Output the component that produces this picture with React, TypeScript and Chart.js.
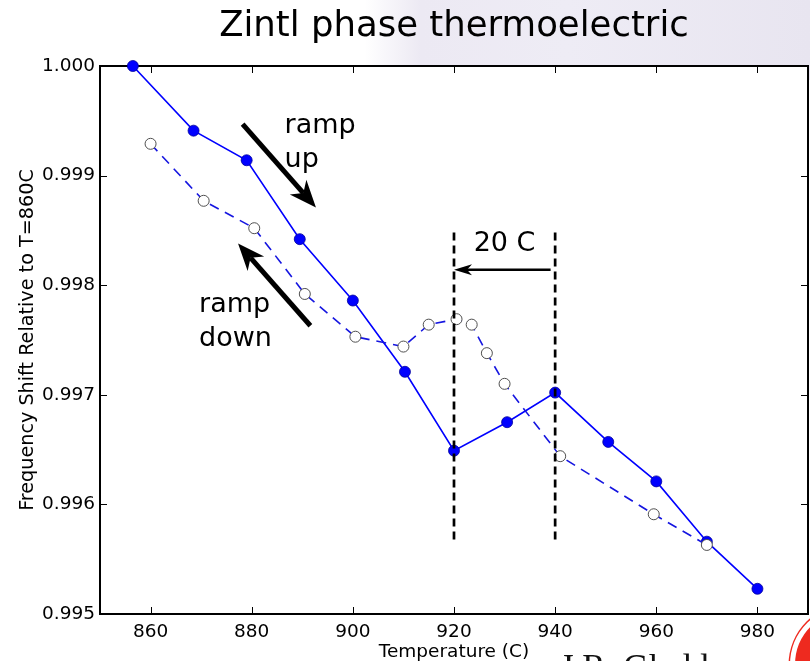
import React, { useEffect, useRef } from "react";
import { Chart, registerables } from "chart.js";

Chart.register(...registerables);

// Ramp-up measurement (filled markers, solid line)
const rampUpTemp = [856.5, 868.5, 879, 889.5, 900, 910.3, 920, 930.5, 940, 950.5, 960, 970, 980];
const rampUpShift = [1.0, 0.99941, 0.99914, 0.99842, 0.99786, 0.99721, 0.99649, 0.99675, 0.99702, 0.99657, 0.99621, 0.99566, 0.99523];

// Ramp-down measurement (open markers, dashed line)
const rampDownTemp = [860, 870.5, 880.5, 890.5, 900.5, 910, 915, 920.5, 923.5, 926.5, 930, 941, 959.5, 970];
const rampDownShift = [0.99929, 0.99877, 0.99852, 0.99792, 0.99753, 0.99744, 0.99764, 0.99769, 0.99764, 0.99738, 0.9971, 0.99644, 0.99591, 0.99563];

// Axis ticks
const xTickValues = [860, 880, 900, 920, 940, 960, 980];
const yTickValues = [0.995, 0.996, 0.997, 0.998, 0.999, 1.0];

// Annotations, in data coordinates
const offsetTemps = [920, 940];
const offsetSpan = [0.99565, 0.99848];
const offsetArrow = { from: [939.1, 0.99814], to: [920, 0.99814] };
const offsetLabel = { text: "20 C", at: [930, 0.998314] };
const rampUpArrow = { from: [878.2, 0.99947], to: [892.7, 0.99871] };
const rampDownArrow = { from: [891.6, 0.99763], to: [877.3, 0.99838] };
const rampUpLabel = { lines: ["ramp", "up"], at: [886.5, 0.999387] };
const rampDownLabel = { lines: ["ramp", "down"], at: [869.6, 0.997757] };

const FONT = "DejaVu Sans";

function drawArrow(
  ctx: CanvasRenderingContext2D,
  x0: number, y0: number, x1: number, y1: number,
  shaftW: number, headL: number, headW: number, notch: number
) {
  const dx = x1 - x0, dy = y1 - y0;
  const len = Math.hypot(dx, dy);
  const ux = dx / len, uy = dy / len;
  const nx = -uy, ny = ux;
  const nxp = x1 - ux * (headL - notch), nyp = y1 - uy * (headL - notch);
  ctx.lineWidth = shaftW;
  ctx.lineCap = "butt";
  ctx.beginPath();
  ctx.moveTo(x0, y0);
  ctx.lineTo(nxp, nyp);
  ctx.stroke();
  const bx = x1 - ux * headL, by = y1 - uy * headL;
  ctx.beginPath();
  ctx.moveTo(x1, y1);
  ctx.lineTo(bx + nx * headW, by + ny * headW);
  ctx.lineTo(nxp, nyp);
  ctx.lineTo(bx - nx * headW, by - ny * headW);
  ctx.closePath();
  ctx.fill();
}

const framePlugin = {
  id: "frame",
  beforeDraw(chart: any) {
    const { ctx, chartArea: a } = chart;
    ctx.save();
    ctx.fillStyle = "#ffffff";
    ctx.fillRect(a.left, a.top, a.right - a.left, a.bottom - a.top);
    ctx.restore();
  },
  beforeDatasetsDraw(chart: any) {
    const { ctx, chartArea: a, scales } = chart;
    ctx.save();
    // inward tick marks on all four sides
    ctx.strokeStyle = "#000";
    ctx.lineWidth = 1;
    const tl = 7;
    for (const v of xTickValues) {
      const px = Math.round(scales.x.getPixelForValue(v)) + 0.5;
      ctx.beginPath();
      ctx.moveTo(px, a.bottom);
      ctx.lineTo(px, a.bottom - tl);
      ctx.moveTo(px, a.top);
      ctx.lineTo(px, a.top + tl);
      ctx.stroke();
    }
    for (const v of yTickValues) {
      const py = Math.round(scales.y.getPixelForValue(v)) + 0.5;
      ctx.beginPath();
      ctx.moveTo(a.left, py);
      ctx.lineTo(a.left + tl, py);
      ctx.moveTo(a.right, py);
      ctx.lineTo(a.right - tl, py);
      ctx.stroke();
    }
    // axes frame
    ctx.lineWidth = 2;
    ctx.strokeRect(a.left, a.top, a.right - a.left, a.bottom - a.top);
    ctx.restore();
  },
  afterDatasetsDraw(chart: any) {
    const { ctx, scales } = chart;
    const X = (v: number) => scales.x.getPixelForValue(v);
    const Y = (v: number) => scales.y.getPixelForValue(v);
    ctx.save();
    ctx.strokeStyle = "#000";
    ctx.fillStyle = "#000";

    // dashed markers for the 20 C offset
    ctx.lineWidth = 2.7;
    ctx.setLineDash([8, 5]);
    for (const t of offsetTemps) {
      ctx.beginPath();
      ctx.moveTo(X(t), Y(offsetSpan[1]));
      ctx.lineTo(X(t), Y(offsetSpan[0]));
      ctx.stroke();
    }
    ctx.setLineDash([]);

    drawArrow(ctx, X(offsetArrow.from[0]), Y(offsetArrow.from[1]), X(offsetArrow.to[0]), Y(offsetArrow.to[1]), 2.5, 18, 5.5, 5);
    drawArrow(ctx, X(rampUpArrow.from[0]), Y(rampUpArrow.from[1]), X(rampUpArrow.to[0]), Y(rampUpArrow.to[1]), 5, 27, 11, 8);
    drawArrow(ctx, X(rampDownArrow.from[0]), Y(rampDownArrow.from[1]), X(rampDownArrow.to[0]), Y(rampDownArrow.to[1]), 5, 27, 11, 8);

    ctx.font = `27px "${FONT}"`;
    ctx.textBaseline = "alphabetic";
    ctx.textAlign = "center";
    ctx.fillText(offsetLabel.text, X(offsetLabel.at[0]), Y(offsetLabel.at[1]));
    ctx.textAlign = "left";
    const lh = 33.7;
    rampUpLabel.lines.forEach((s, i) => ctx.fillText(s, X(rampUpLabel.at[0]), Y(rampUpLabel.at[1]) + i * lh));
    rampDownLabel.lines.forEach((s, i) => ctx.fillText(s, X(rampDownLabel.at[0]), Y(rampDownLabel.at[1]) + i * lh));
    ctx.restore();
  },
};

export default function App() {
  const ref = useRef<HTMLCanvasElement>(null);

  useEffect(() => {
    if (!ref.current) return;
    Chart.defaults.font.family = FONT;
    Chart.defaults.color = "#000";
    const chart = new Chart(ref.current, {
      type: "line",
      data: {
        datasets: [
          {
            label: "ramp down",
            data: rampDownTemp.map((t, i) => ({ x: t, y: rampDownShift[i] })),
            borderColor: "#1515e0",
            borderWidth: 1.6,
            borderDash: [10, 7],
            pointRadius: 5.5,
            pointBackgroundColor: "#ffffff",
            pointBorderColor: "#505050",
            pointBorderWidth: 1,
            tension: 0,
            clip: false as any,
            order: 0,
          },
          {
            label: "ramp up",
            data: rampUpTemp.map((t, i) => ({ x: t, y: rampUpShift[i] })),
            borderColor: "#0000ff",
            borderWidth: 1.6,
            pointRadius: 5.5,
            pointBackgroundColor: "#0000ff",
            pointBorderColor: "#00009a",
            pointBorderWidth: 0.8,
            tension: 0,
            clip: false as any,
            order: 1,
          },
        ],
      },
      options: {
        responsive: false,
        animation: false,
        events: [],
        layout: { autoPadding: false, padding: { left: 0, right: 2, top: 0, bottom: 0 } },
        plugins: {
          legend: { display: false },
          tooltip: { enabled: false },
          title: {
            display: true,
            text: "Zintl phase thermoelectric",
            fullSize: false,
            color: "#000",
            font: { family: FONT, size: 35.5, weight: "normal", lineHeight: 1.2 },
            padding: { top: 5, bottom: 18.4 },
          },
        },
        scales: {
          x: {
            type: "linear",
            min: 850,
            max: 990,
            grid: { display: false, drawTicks: false },
            border: { display: false },
            afterBuildTicks: (s: any) => {
              s.ticks = xTickValues.map((v) => ({ value: v }));
            },
            afterFit: (s: any) => {
              s.height = 47;
            },
            ticks: {
              color: "#000",
              padding: 7,
              maxRotation: 0,
              font: { family: FONT, size: 18.5 },
              callback: (v: any) => String(v),
            },
            title: {
              display: true,
              text: "Temperature (C)",
              color: "#000",
              font: { family: FONT, size: 18.5, lineHeight: 1 },
              padding: { top: 0, bottom: 0 },
            },
          },
          y: {
            type: "linear",
            min: 0.995,
            max: 1.0,
            grid: { display: false, drawTicks: false },
            border: { display: false },
            afterBuildTicks: (s: any) => {
              s.ticks = yTickValues.map((v) => ({ value: v }));
            },
            afterFit: (s: any) => {
              s.width = 100;
            },
            ticks: {
              color: "#000",
              padding: 5,
              font: { family: FONT, size: 18.5 },
              callback: (v: any) => Number(v).toFixed(3),
            },
            title: {
              display: true,
              text: "Frequency Shift Relative to T=860C",
              color: "#000",
              font: { family: FONT, size: 19.2, lineHeight: 1.2 },
              padding: { top: 16.5, bottom: 0 },
            },
          },
        },
      },
      plugins: [framePlugin],
    });
    return () => chart.destroy();
  }, []);

  return (
    <div
      style={{
        position: "fixed",
        left: 0,
        top: 0,
        width: 810,
        height: 661,
        overflow: "hidden",
        background: "#ffffff",
      }}
    >
      <div
        style={{
          position: "absolute",
          left: 0,
          top: 0,
          width: 810,
          height: 80,
          background:
            "linear-gradient(90deg, #ffffff 0%, #ffffff 45%, #ece9f3 52%, #eeecf5 70%, #e8e5f0 100%)",
        }}
      />
      <canvas
        ref={ref}
        width={810}
        height={661}
        style={{ position: "absolute", left: 0, top: 0, display: "block" }}
      />
      <div
        style={{
          position: "absolute",
          left: 560,
          top: 650,
          fontFamily: '"Liberation Serif", serif',
          fontSize: 35,
          lineHeight: 1,
          color: "#111",
          whiteSpace: "nowrap",
        }}
      >
        J.R. Gladden
      </div>
      <div
        style={{
          position: "absolute",
          left: 790,
          top: 605,
          width: 120,
          height: 120,
          boxSizing: "border-box",
          borderRadius: "50%",
          background: "#ee2a1f",
          border: "5px solid #ffffff",
          boxShadow: "0 0 0 1.5px #ee2a1f",
        }}
      />
    </div>
  );
}
